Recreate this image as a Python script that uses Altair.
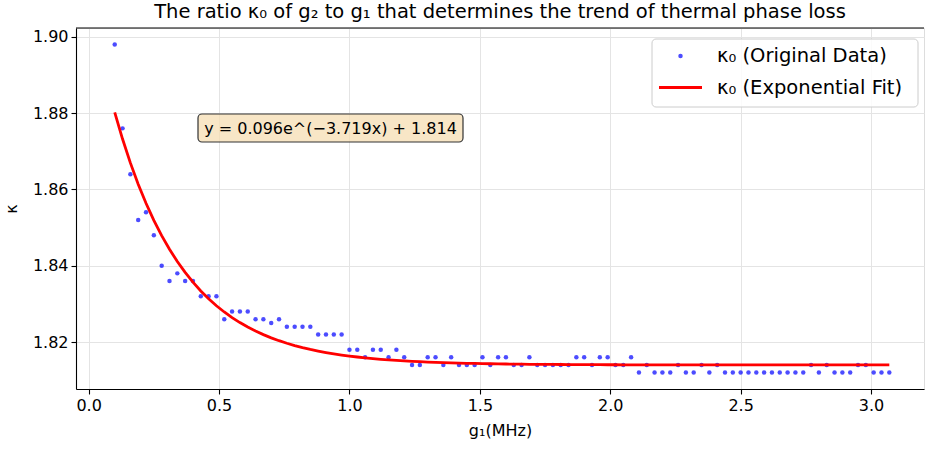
import altair as alt
import pandas as pd
import numpy as np

# ---- data ----
g1_mhz = [0.10, 0.13, 0.16, 0.19, 0.22, 0.25, 0.28, 0.31, 0.34, 0.37,
          0.40, 0.43, 0.46, 0.49, 0.52, 0.55, 0.58, 0.61, 0.64, 0.67,
          0.70, 0.73, 0.76, 0.79, 0.82, 0.85, 0.88, 0.91, 0.94, 0.97,
          1.00, 1.03, 1.06, 1.09, 1.12, 1.15, 1.18, 1.21, 1.24, 1.27,
          1.30, 1.33, 1.36, 1.39, 1.42, 1.45, 1.48, 1.51, 1.54, 1.57,
          1.60, 1.63, 1.66, 1.69, 1.72, 1.75, 1.78, 1.81, 1.84, 1.87,
          1.90, 1.93, 1.96, 1.99, 2.02, 2.05, 2.08, 2.11, 2.14, 2.17,
          2.20, 2.23, 2.26, 2.29, 2.32, 2.35, 2.38, 2.41, 2.44, 2.47,
          2.50, 2.53, 2.56, 2.59, 2.62, 2.65, 2.68, 2.71, 2.74, 2.77,
          2.80, 2.83, 2.86, 2.89, 2.92, 2.95, 2.98, 3.01, 3.04, 3.07]

kappa0 = [1.898, 1.876, 1.864, 1.852, 1.854, 1.848, 1.840, 1.836, 1.838, 1.836,
          1.836, 1.832, 1.832, 1.832, 1.826, 1.828, 1.828, 1.828, 1.826, 1.826,
          1.825, 1.826, 1.824, 1.824, 1.824, 1.824, 1.822, 1.822, 1.822, 1.822,
          1.818, 1.818, 1.816, 1.818, 1.818, 1.816, 1.818, 1.816, 1.814, 1.814,
          1.816, 1.816, 1.814, 1.816, 1.814, 1.814, 1.814, 1.816, 1.814, 1.816,
          1.816, 1.814, 1.814, 1.816, 1.814, 1.814, 1.814, 1.814, 1.814, 1.816,
          1.816, 1.814, 1.816, 1.816, 1.814, 1.814, 1.816, 1.812, 1.814, 1.812,
          1.812, 1.812, 1.814, 1.812, 1.812, 1.814, 1.812, 1.814, 1.812, 1.812,
          1.812, 1.812, 1.812, 1.812, 1.812, 1.812, 1.812, 1.812, 1.812, 1.814,
          1.812, 1.814, 1.812, 1.812, 1.812, 1.814, 1.814, 1.812, 1.812, 1.812]

# fit parameters as printed in the chart's annotation
fit_a, fit_b, fit_c = 0.096, 3.719, 1.814

x_ticks = [0.0, 0.5, 1.0, 1.5, 2.0, 2.5, 3.0]
y_ticks = [1.82, 1.84, 1.86, 1.88, 1.90]

title_text = "The ratio κ₀ of g₂ to g₁ that determines the trend of thermal phase loss"
x_title = "g₁(MHz)"
y_title = "κ"
legend_labels = ["κ₀ (Original Data)", "κ₀ (Exponential Fit)"]
annotation_text = "y = 0.096e^(−3.719x) + 1.814"

FONT = "DejaVu Sans"
W, H = 848, 361

df = pd.DataFrame({"g1": g1_mhz, "kappa": kappa0})
df["fit"] = fit_a * np.exp(-fit_b * df["g1"]) + fit_c

xscale = alt.Scale(domain=[-0.0485, 3.2030], nice=False, zero=False)
yscale = alt.Scale(domain=[1.8077, 1.9023], nice=False, zero=False)

common_axis = dict(grid=True, gridColor="#e4e4e4", gridWidth=1, domainColor="black",
                   domainWidth=1.1, tickColor="black", tickSize=5, tickWidth=1.1,
                   labelFontSize=16, titleFontSize=16, labelFont=FONT, titleFont=FONT,
                   labelColor="black", titleColor="black", titleFontWeight="normal",
                   labelPadding=3, labelFlush=False)


def xax():
    return alt.Axis(values=x_ticks, format=".1f", title=x_title, titlePadding=9,
                    **common_axis)


def yax():
    return alt.Axis(values=y_ticks, format=".2f", title=y_title, titlePadding=13,
                    **common_axis)


base = alt.Chart(df)
points = base.mark_circle(size=20, color="#0000ff", opacity=0.7).encode(
    x=alt.X("g1:Q", scale=xscale, axis=xax()),
    y=alt.Y("kappa:Q", scale=yscale, axis=yax()),
)
fit_line = base.mark_line(color="#ff0000", strokeWidth=2.8, clip=True).encode(
    x=alt.X("g1:Q", scale=xscale, axis=xax()),
    y=alt.Y("fit:Q", scale=yscale, axis=yax()),
)

one = alt.Chart(pd.DataFrame({"k": [0]}))

top_border = one.mark_rule(color="black", strokeWidth=1.1).encode(
    x=alt.value(0), x2=alt.value(W), y=alt.value(0)
)

# annotation box
ann_box = one.mark_rect(fill="#f5deb3", fillOpacity=0.75, stroke="#333333",
                        strokeWidth=1.2, cornerRadius=4).encode(
    x=alt.value(122), x2=alt.value(387), y=alt.value(86), y2=alt.value(114)
)
ann_text = one.mark_text(font=FONT, fontSize=16, color="black", align="center",
                         baseline="middle").encode(
    x=alt.value(254.5), y=alt.value(100.5), text=alt.value(annotation_text)
)

# legend
leg_box = one.mark_rect(fill="white", fillOpacity=0.85, stroke="#cccccc",
                        strokeWidth=1, cornerRadius=4).encode(
    x=alt.value(576), x2=alt.value(842), y=alt.value(11), y2=alt.value(79)
)
leg_pt = one.mark_circle(size=20, color="#0000ff", opacity=0.7).encode(
    x=alt.value(604.5), y=alt.value(28)
)
leg_line = one.mark_rule(color="#ff0000", strokeWidth=2.8).encode(
    x=alt.value(583), x2=alt.value(626), y=alt.value(59.5)
)
leg_text1 = one.mark_text(font=FONT, fontSize=19.5, color="black", align="left",
                          baseline="middle").encode(
    x=alt.value(641), y=alt.value(28), text=alt.value(legend_labels[0])
)
leg_text2 = one.mark_text(font=FONT, fontSize=19.5, color="black", align="left",
                          baseline="middle").encode(
    x=alt.value(641), y=alt.value(59.5), text=alt.value(legend_labels[1])
)

chart = alt.layer(
    points, fit_line, top_border, ann_box, ann_text,
    leg_box, leg_pt, leg_line, leg_text1, leg_text2
).properties(
    width=W, height=H,
    title=alt.TitleParams(title_text, font=FONT, fontSize=19.5, fontWeight="normal",
                          color="black", anchor="middle", offset=5),
    padding={"left": 76, "top": 28, "right": 1, "bottom": 60},
    autosize=alt.AutoSizeParams(type="none"),
).configure_view(stroke=None).configure(background="white")

chart.save("out.html", embed_options={"renderer": "svg", "actions": False})
